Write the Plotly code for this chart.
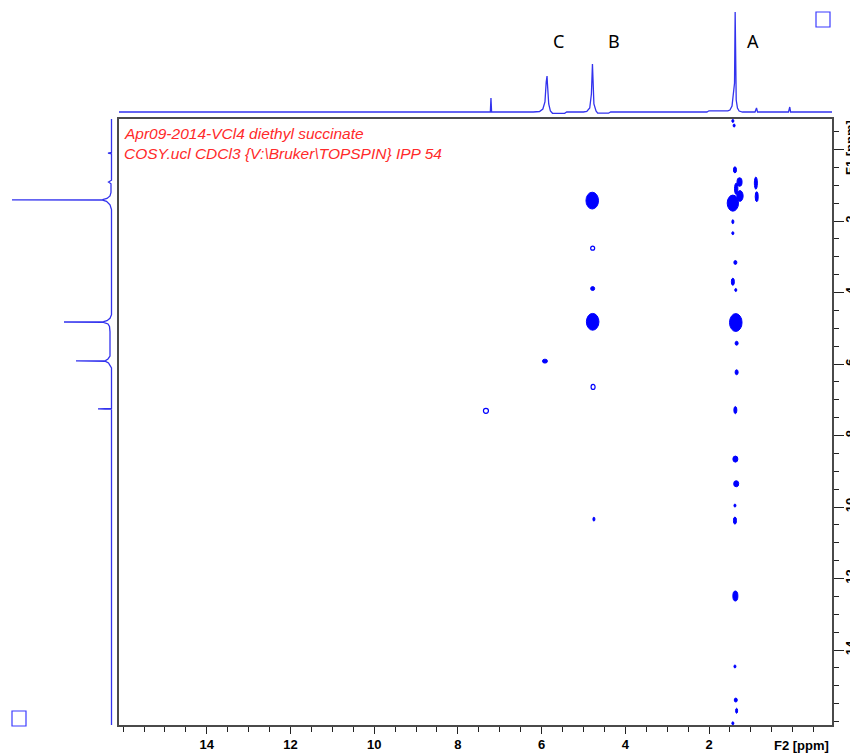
import plotly.graph_objects as go

# ---- 1D projection along F2 (top trace): chemical shift (ppm) vs intensity
top_ppm = [16.1, 7.26, 7.225, 7.21, 7.195, 6.20, 6.05, 5.97, 5.92, 5.89, 5.87, 5.86, 5.83, 5.79,
           5.74, 5.45, 5.40, 5.00, 4.92, 4.85, 4.81, 4.785, 4.775, 4.75, 4.70, 4.66, 4.40, 4.35,
           2.05, 2.00, 1.55, 1.50, 1.45, 1.41, 1.39, 1.375, 1.365, 1.35, 1.32, 1.28, 1.20,
           0.90, 0.865, 0.84, 0.10, 0.07, 0.05, -0.95]
top_int = [0, 0, 0, 14, 0, 0, 0.5, 3, 10, 30, 36, 28, 8, 1,
           -1.3, -1.3, 0, 0, 0.5, 4, 18, 48, 30, 8, 1, -1.2, -1.2, 0,
           0, 1.2, 1.2, 2, 6, 20, 29, 100, 30, 12, 4, 1, 0,
           0, 4, 0, 0, 5, 0, 0]

# ---- 1D projection along F1 (left trace)
left_ppm = [-0.85, 0.08, 0.10, 0.12, 0.86, 0.91, 0.96, 1.20, 1.30, 1.37, 1.40, 1.41, 1.415,
            1.45, 1.55, 1.68, 4.62, 4.72, 4.79, 4.815, 4.825, 4.835, 4.88, 4.95, 5.10, 5.78,
            5.86, 5.905, 5.915, 5.925, 5.97, 6.05, 6.11, 7.24, 7.255, 7.27, 16.1]
left_int = [0, 0, 3.5, 0, 0, 3, 0.5, 0.5, 1.5, 4.5, 9, 99.5, 9,
            5, 1.5, 0, 0, 1.5, 4.5, 8, 47.5, 8, 3.5, 2, 1.5, 1.5,
            3.5, 6, 35.5, 6, 3, 1, 0, 0, 13.5, 0, 0]

# ---- COSY contour peaks: F2 shift, F1 shift, linewidths along F2 / F1 (ppm)
cross_f2 = [1.43, 1.40, 1.38, 1.27, 1.35, 1.43, 1.26, 0.88, 0.86, 1.43, 1.43, 1.37, 1.43,
            1.36, 1.36, 1.34, 1.34, 1.37, 1.37, 1.35, 1.38, 1.38, 1.37, 1.38, 1.36, 1.34,
            1.43, 4.79, 4.78, 4.78, 4.75, 5.92]
cross_f1 = [-0.80, -0.67, 0.57, 0.91, 1.10, 1.50, 1.30, 0.94, 1.32, 2.02, 2.34, 3.16, 3.70,
            3.93, 4.84, 5.42, 6.23, 7.29, 8.66, 9.35, 9.96, 10.38, 12.49, 14.46, 15.40, 15.70,
            16.05, 1.43, 3.89, 4.82, 10.34, 5.92]
cross_lw2 = [0.048, 0.048, 0.072, 0.12, 0.08, 0.27, 0.15, 0.072, 0.072, 0.048, 0.048, 0.072, 0.072,
             0.048, 0.30, 0.072, 0.072, 0.072, 0.12, 0.12, 0.048, 0.072, 0.12, 0.048, 0.072, 0.048,
             0.048, 0.30, 0.096, 0.30, 0.048, 0.12]
cross_lw1 = [0.084, 0.084, 0.17, 0.24, 0.32, 0.45, 0.30, 0.34, 0.28, 0.11, 0.084, 0.11, 0.2,
             0.084, 0.50, 0.11, 0.14, 0.2, 0.17, 0.17, 0.084, 0.2, 0.28, 0.084, 0.11, 0.14,
             0.084, 0.47, 0.11, 0.47, 0.11, 0.11]

# weak peaks drawn as single open contour rings
ring_f2 = [4.78, 4.77, 7.33]
ring_f1 = [2.76, 6.64, 7.31]
ring_lw2 = [0.096, 0.096, 0.12]
ring_lw1 = [0.11, 0.14, 0.14]

# ---- axis ticks
f2_ticks = [14, 12, 10, 8, 6, 4, 2]
f1_ticks = [0, 2, 4, 6, 8, 10, 12, 14]
f1_labels = ["F1 [ppm]", "2", "4", "6", "8", "10", "12", "14"]

title_lines = ["Apr09-2014-VCl4 diethyl succinate",
               "COSY.ucl CDCl3 {V:\\Bruker\\TOPSPIN} IPP 54"]
peak_names = ["C", "B", "A"]

W, H = 850, 753
PX_L, PX_R, PX_T, PX_B = 119, 832, 119, 725
F2_RANGE = [16.098, -0.939]
F1_RANGE = [16.098, -0.853]

SPEC = "#3232ee"
CONT = "#0000ff"

fig = go.Figure()

fig.add_trace(go.Scatter(x=top_ppm, y=top_int, mode="lines", xaxis="x2", yaxis="y2",
                         line=dict(color=SPEC, width=1.3), hoverinfo="skip"))
fig.add_trace(go.Scatter(x=left_int, y=left_ppm, mode="lines", xaxis="x3", yaxis="y3",
                         line=dict(color=SPEC, width=1.3), hoverinfo="skip"))
# invisible anchor trace so the main subplot exists
fig.add_trace(go.Scatter(x=cross_f2, y=cross_f1, mode="markers", xaxis="x", yaxis="y",
                         marker=dict(size=1, color="rgba(0,0,0,0)"), hoverinfo="skip"))

shapes = []
for x, y, a, b in zip(cross_f2, cross_f1, cross_lw2, cross_lw1):
    shapes.append(dict(type="circle", xref="x", yref="y",
                       x0=x + a / 2, x1=x - a / 2, y0=y - b / 2, y1=y + b / 2,
                       fillcolor=CONT, line=dict(color=CONT, width=1)))
for x, y, a, b in zip(ring_f2, ring_f1, ring_lw2, ring_lw1):
    shapes.append(dict(type="circle", xref="x", yref="y",
                       x0=x + a / 2, x1=x - a / 2, y0=y - b / 2, y1=y + b / 2,
                       fillcolor="white", line=dict(color=CONT, width=1.2)))

# small corner boxes
for (x0, y0) in [(816, 12), (12, 711)]:
    shapes.append(dict(type="rect", xref="paper", yref="paper",
                       x0=x0 / W, x1=(x0 + 14) / W, y0=1 - y0 / H, y1=1 - (y0 + 15) / H,
                       line=dict(color="#3b3bff", width=1.2)))

annotations = []
for i, line in enumerate(title_lines):
    annotations.append(dict(text=line, xref="paper", yref="paper",
                            x=122 / W, y=1 - (133 + 20 * i) / H, xanchor="left", yanchor="middle",
                            showarrow=False,
                            font=dict(family="Liberation Sans", size=15.5, color="#ff2a2a",
                                      style="italic")))
for name, px in zip(peak_names, [558, 614, 753]):
    annotations.append(dict(text=name, xref="paper", yref="paper",
                            x=px / W, y=1 - 41 / H, xanchor="center", yanchor="middle",
                            showarrow=False,
                            font=dict(family="Noto Sans", size=18, color="black")))
annotations.append(dict(text="F2 [ppm]", xref="x", yref="paper", x=-0.22, y=1 - 745 / H,
                        xanchor="center", yanchor="middle", showarrow=False,
                        font=dict(family="Liberation Sans", size=13, color="black",
                                  weight="bold")))

tickfont = dict(family="Liberation Sans", size=13, color="black", weight="bold")
frame = "#4a4a4a"

fig.update_layout(
    width=W, height=H, margin=dict(l=0, r=0, t=0, b=0),
    paper_bgcolor="white", plot_bgcolor="white", showlegend=False,
    shapes=shapes, annotations=annotations,
    xaxis=dict(domain=[PX_L / W, PX_R / W], range=F2_RANGE, anchor="y",
               showline=True, mirror=True, linecolor=frame, linewidth=1.5,
               showgrid=False, zeroline=False,
               tickmode="array", tickvals=f2_ticks, ticks="outside", ticklen=7,
               tickcolor="#222", tickwidth=1, tickfont=tickfont,
               minor=dict(tickmode="linear", tick0=0, dtick=0.5, ticks="outside",
                          ticklen=5, tickcolor="#222", tickwidth=1, showgrid=False),
               automargin=False),
    yaxis=dict(domain=[1 - PX_B / H, 1 - PX_T / H], range=F1_RANGE, anchor="x", side="right",
               showline=True, mirror=True, linecolor=frame, linewidth=1.5,
               showgrid=False, zeroline=False,
               tickmode="array", tickvals=f1_ticks, ticktext=f1_labels, ticks="outside",
               ticklen=10, tickcolor="#222", tickwidth=1, tickfont=tickfont, tickangle=-90,
               ticklabelstandoff=-4,
               minor=dict(tickmode="linear", tick0=0, dtick=0.5, ticks="outside",
                          ticklen=5, tickcolor="#222", tickwidth=1, showgrid=False),
               automargin=False),
    xaxis2=dict(domain=[PX_L / W, PX_R / W], matches="x", anchor="y2", visible=False),
    yaxis2=dict(domain=[1 - 116 / H, 1], range=[-4, 112], anchor="x2", visible=False),
    xaxis3=dict(domain=[0, PX_L / W], range=[111.5, -7.5], anchor="y3", visible=False),
    yaxis3=dict(domain=[1 - PX_B / H, 1 - PX_T / H], matches="y", anchor="x3", visible=False),
)

fig.write_html("out.html")
